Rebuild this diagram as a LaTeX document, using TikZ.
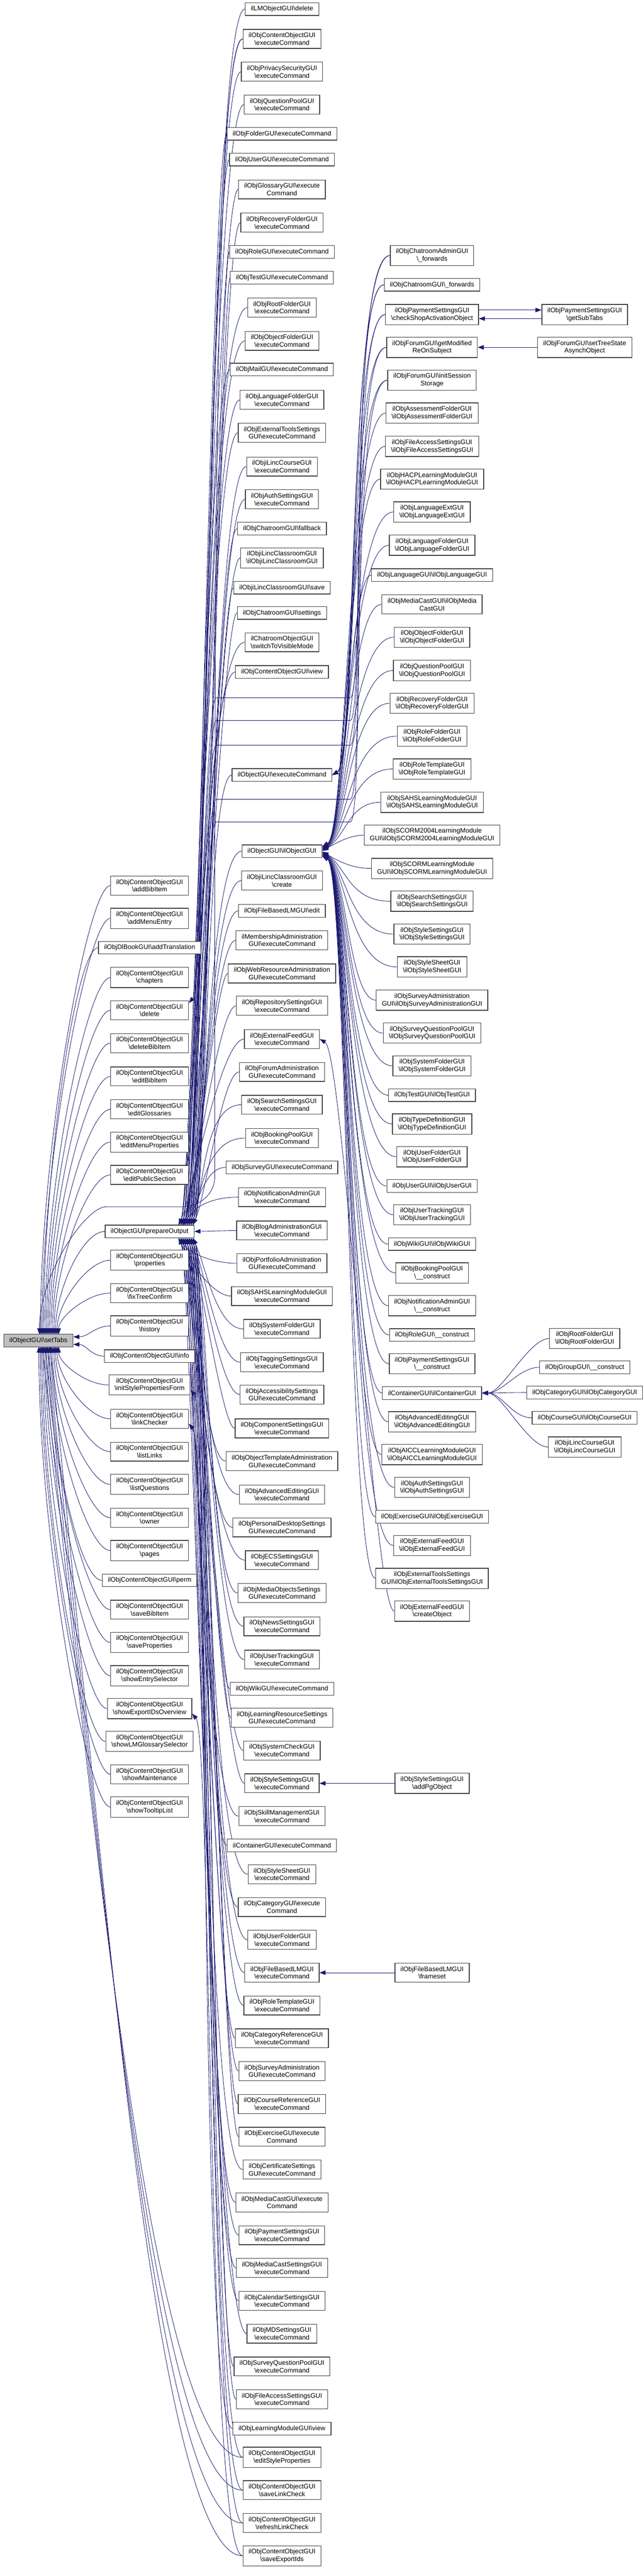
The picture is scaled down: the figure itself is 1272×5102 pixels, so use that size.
\documentclass[tikz,border=0pt]{standalone}
\usepackage{fontspec}
\setmainfont{Liberation Sans}
\usetikzlibrary{arrows.meta,calc}
\definecolor{edgeblue}{HTML}{191970}
\newcommand{\bs}{\textbackslash}
\newcommand{\fnt}{\fontsize{1.625}{1.875}\selectfont}
\pgfdeclarelayer{bg}
\pgfsetlayers{bg,main}
\tikzset{
  fn/.style={draw=black!75, line width=0.16pt, fill=white, align=center, font=\fnt,
    inner xsep=1.375pt, inner ysep=0.8125pt, minimum height=3.125pt},
  rootfn/.style={fn, fill=black!25},
  edge/.style={draw=edgeblue, line width=0.11pt, -{Triangle[length=1.5pt,width=1.1pt]}}
}
\begin{document}
\begin{tikzpicture}[x=0.125pt,y=0.125pt]
\useasboundingbox (0,0) rectangle (1272,-5102);

\node[rootfn] (T) at (76,-2655) {ilObjectGUI\bs setTabs};

% callers of setTabs
\foreach \y/\t [count=\n] in {1754/{ilObjContentObjectGUI\\\bs addBibItem},
  1819/{ilObjContentObjectGUI\\\bs addMenuEntry}, 1877/{ilObjDlBookGUI\bs addTranslation},
  1936/{ilObjContentObjectGUI\\\bs chapters}, 2001/{ilObjContentObjectGUI\\\bs delete},
  2066/{ilObjContentObjectGUI\\\bs deleteBibItem}, 2132/{ilObjContentObjectGUI\\\bs editBibItem},
  2197/{ilObjContentObjectGUI\\\bs editGlossaries}, 2262/{ilObjContentObjectGUI\\\bs editMenuProperties},
  2327/{ilObjContentObjectGUI\\\bs editPublicSection}, 2439/{ilObjectGUI\bs prepareOutput},
  2496/{ilObjContentObjectGUI\\\bs properties}, 2561/{ilObjContentObjectGUI\\\bs fixTreeConfirm},
  2626/{ilObjContentObjectGUI\\\bs history}, 2686/{ilObjContentObjectGUI\bs info},
  2743/{ilObjContentObjectGUI\\\bs initStylePropertiesForm}, 2810/{ilObjContentObjectGUI\\\bs linkChecker},
  2875/{ilObjContentObjectGUI\\\bs listLinks}, 2940/{ilObjContentObjectGUI\\\bs listQuestions},
  3006/{ilObjContentObjectGUI\\\bs owner}, 3071/{ilObjContentObjectGUI\\\bs pages},
  3130/{ilObjContentObjectGUI\bs perm}, 3188/{ilObjContentObjectGUI\\\bs saveBibItem},
  3253/{ilObjContentObjectGUI\\\bs saveProperties}, 3319/{ilObjContentObjectGUI\\\bs showEntrySelector},
  3384/{ilObjContentObjectGUI\\\bs showExportIDsOverview}, 3449/{ilObjContentObjectGUI\\\bs showLMGlossarySelector},
  3514/{ilObjContentObjectGUI\\\bs showMaintenance}, 3579/{ilObjContentObjectGUI\\\bs showTooltipList}}
  \node[fn] (P\n) at (296,-\y) {\t};

% third rank
\foreach \y/\t [count=\n] in {18/{ilLMObjectGUI\bs delete},
  77/{ilObjContentObjectGUI\\\bs executeCommand}, 142/{ilObjPrivacySecurityGUI\\\bs executeCommand},
  207/{ilObjQuestionPoolGUI\\\bs executeCommand}, 265/{ilObjFolderGUI\bs executeCommand},
  316/{ilObjUserGUI\bs executeCommand}, 375/{ilObjGlossaryGUI\bs execute\\Command},
  441/{ilObjRecoveryFolderGUI\\\bs executeCommand}, 499/{ilObjRoleGUI\bs executeCommand},
  550/{ilObjTestGUI\bs executeCommand}, 609/{ilObjRootFolderGUI\\\bs executeCommand},
  675/{ilObjObjectFolderGUI\\\bs executeCommand}, 732/{ilObjMailGUI\bs executeCommand},
  792/{ilObjLanguageFolderGUI\\\bs executeCommand}, 857/{ilObjExternalToolsSettings\\GUI\bs executeCommand},
  924/{ilObjiLincCourseGUI\\\bs executeCommand}, 989/{ilObjAuthSettingsGUI\\\bs executeCommand},
  1047/{ilObjChatroomGUI\bs fallback}, 1105/{ilObjiLincClassroomGUI\\\bs ilObjiLincClassroomGUI},
  1164/{ilObjiLincClassroomGUI\bs save}, 1214/{ilObjChatroomGUI\bs settings},
  1272/{ilChatroomObjectGUI\\\bs switchToVisibleMode}, 1331/{ilObjContentObjectGUI\bs view},
  1535/{ilObjectGUI\bs executeCommand}, 1686/{ilObjectGUI\bs ilObjectGUI},
  1744/{ilObjiLincClassroomGUI\\\bs create}, 1804/{ilObjFileBasedLMGUI\bs edit},
  1862/{ilMembershipAdministration\\GUI\bs executeCommand}, 1928/{ilObjWebResourceAdministration\\GUI\bs executeCommand},
  1992/{ilObjRepositorySettingsGUI\\\bs executeCommand}, 2058/{ilObjExternalFeedGUI\\\bs executeCommand},
  2123/{ilObjForumAdministration\\GUI\bs executeCommand}, 2188/{ilObjSearchSettingsGUI\\\bs executeCommand},
  2254/{ilObjBookingPoolGUI\\\bs executeCommand}, 2312/{ilObjSurveyGUI\bs executeCommand},
  2371/{ilObjNotificationAdminGUI\\\bs executeCommand}, 2437/{ilObjBlogAdministrationGUI\\\bs executeCommand},
  2502/{ilObjPortfolioAdministration\\GUI\bs executeCommand}, 2567/{ilObjSAHSLearningModuleGUI\\\bs executeCommand},
  2632/{ilObjSystemFolderGUI\\\bs executeCommand}, 2698/{ilObjTaggingSettingsGUI\\\bs executeCommand},
  2762/{ilObjAccessibilitySettings\\GUI\bs executeCommand}, 2829/{ilObjComponentSettingsGUI\\\bs executeCommand},
  2894/{ilObjObjectTemplateAdministration\\GUI\bs executeCommand}, 2960/{ilObjAdvancedEditingGUI\\\bs executeCommand},
  3025/{ilObjPersonalDesktopSettings\\GUI\bs executeCommand}, 3090/{ilObjECSSettingsGUI\\\bs executeCommand},
  3155/{ilObjMediaObjectsSettings\\GUI\bs executeCommand}, 3221/{ilObjNewsSettingsGUI\\\bs executeCommand},
  3287/{ilObjUserTrackingGUI\\\bs executeCommand}, 3345/{ilObjWikiGUI\bs executeCommand},
  3402/{ilObjLearningResourceSettings\\GUI\bs executeCommand}, 3467/{ilObjSystemCheckGUI\\\bs executeCommand},
  3532/{ilObjStyleSettingsGUI\\\bs executeCommand}, 3597/{ilObjSkillManagementGUI\\\bs executeCommand},
  3655/{ilContainerGUI\bs executeCommand}, 3712/{ilObjStyleSheetGUI\\\bs executeCommand},
  3777/{ilObjCategoryGUI\bs execute\\Command}, 3842/{ilObjUserFolderGUI\\\bs executeCommand},
  3907/{ilObjFileBasedLMGUI\\\bs executeCommand}, 3972/{ilObjRoleTemplateGUI\\\bs executeCommand},
  4037/{ilObjCategoryReferenceGUI\\\bs executeCommand}, 4102/{ilObjSurveyAdministration\\GUI\bs executeCommand},
  4167/{ilObjCourseReferenceGUI\\\bs executeCommand}, 4232/{ilObjExerciseGUI\bs execute\\Command},
  4297/{ilObjCertificateSettings\\GUI\bs executeCommand}, 4362/{ilObjMediaCastGUI\bs execute\\Command},
  4427/{ilObjPaymentSettingsGUI\\\bs executeCommand}, 4492/{ilObjMediaCastSettingsGUI\\\bs executeCommand},
  4557/{ilObjCalendarSettingsGUI\\\bs executeCommand}, 4622/{ilObjMDSettingsGUI\\\bs executeCommand},
  4687/{ilObjSurveyQuestionPoolGUI\\\bs executeCommand}, 4752/{ilObjFileAccessSettingsGUI\\\bs executeCommand},
  4810/{ilObjLearningModuleGUI\bs view}, 4867/{ilObjContentObjectGUI\\\bs editStyleProperties},
  4932/{ilObjContentObjectGUI\\\bs saveLinkCheck}, 4997/{ilObjContentObjectGUI\\\bs refreshLinkCheck},
  5062/{ilObjContentObjectGUI\\\bs saveExportIds}}
  \node[fn] (Q\n) at (558,-\y) {\t};

% fourth rank
\foreach \y/\t [count=\n] in {506/{ilObjChatroomAdminGUI\\\bs \_forwards},
  564/{ilObjChatroomGUI\bs \_forwards}, 623/{ilObjPaymentSettingsGUI\\\bs checkShopActivationObject},
  688/{ilObjForumGUI\bs getModified\\ReOnSubject}, 753/{ilObjForumGUI\bs initSession\\Storage},
  818/{ilObjAssessmentFolderGUI\\\bs ilObjAssessmentFolderGUI}, 884/{ilObjFileAccessSettingsGUI\\\bs ilObjFileAccessSettingsGUI},
  949/{ilObjHACPLearningModuleGUI\\\bs ilObjHACPLearningModuleGUI}, 1014/{ilObjLanguageExtGUI\\\bs ilObjLanguageExtGUI},
  1080/{ilObjLanguageFolderGUI\\\bs ilObjLanguageFolderGUI}, 1139/{ilObjLanguageGUI\bs ilObjLanguageGUI},
  1197/{ilObjMediaCastGUI\bs ilObjMedia\\CastGUI}, 1262/{ilObjObjectFolderGUI\\\bs ilObjObjectFolderGUI},
  1328/{ilObjQuestionPoolGUI\\\bs ilObjQuestionPoolGUI}, 1393/{ilObjRecoveryFolderGUI\\\bs ilObjRecoveryFolderGUI},
  1458/{ilObjRoleFolderGUI\\\bs ilObjRoleFolderGUI}, 1523/{ilObjRoleTemplateGUI\\\bs ilObjRoleTemplateGUI},
  1589/{ilObjSAHSLearningModuleGUI\\\bs ilObjSAHSLearningModuleGUI},
  1654/{ilObjSCORM2004LearningModule\\GUI\bs ilObjSCORM2004LearningModuleGUI},
  1720/{ilObjSCORMLearningModule\\GUI\bs ilObjSCORMLearningModuleGUI},
  1785/{ilObjSearchSettingsGUI\\\bs ilObjSearchSettingsGUI}, 1850/{ilObjStyleSettingsGUI\\\bs ilObjStyleSettingsGUI},
  1915/{ilObjStyleSheetGUI\\\bs ilObjStyleSheetGUI}, 1981/{ilObjSurveyAdministration\\GUI\bs ilObjSurveyAdministrationGUI},
  2046/{ilObjSurveyQuestionPoolGUI\\\bs ilObjSurveyQuestionPoolGUI}, 2111/{ilObjSystemFolderGUI\\\bs ilObjSystemFolderGUI},
  2169/{ilObjTestGUI\bs ilObjTestGUI}, 2226/{ilObjTypeDefinitionGUI\\\bs ilObjTypeDefinitionGUI},
  2291/{ilObjUserFolderGUI\\\bs ilObjUserFolderGUI}, 2349/{ilObjUserGUI\bs ilObjUserGUI},
  2406/{ilObjUserTrackingGUI\\\bs ilObjUserTrackingGUI}, 2464/{ilObjWikiGUI\bs ilObjWikiGUI},
  2521/{ilObjBookingPoolGUI\\\bs \_\_construct}, 2586/{ilObjNotificationAdminGUI\\\bs \_\_construct},
  2644/{ilObjRoleGUI\bs \_\_construct}, 2701/{ilObjPaymentSettingsGUI\\\bs \_\_construct},
  2759/{ilContainerGUI\bs ilContainerGUI}, 2816/{ilObjAdvancedEditingGUI\\\bs ilObjAdvancedEditingGUI},
  2881/{ilObjAICCLearningModuleGUI\\\bs ilObjAICCLearningModuleGUI}, 2946/{ilObjAuthSettingsGUI\\\bs ilObjAuthSettingsGUI},
  3004/{ilObjExerciseGUI\bs ilObjExerciseGUI}, 3061/{ilObjExternalFeedGUI\\\bs ilObjExternalFeedGUI},
  3126/{ilObjExternalToolsSettings\\GUI\bs ilObjExternalToolsSettingsGUI}, 3191/{ilObjExternalFeedGUI\\\bs createObject},
  3532/{ilObjStyleSettingsGUI\\\bs addPgObject}, 3907/{ilObjFileBasedLMGUI\\\bs frameset}}
  \node[fn] (R\n) at (855,-\y) {\t};

% fifth rank
\foreach \y/\t [count=\n] in {623/{ilObjPaymentSettingsGUI\\\bs getSubTabs},
  688/{ilObjForumGUI\bs setTreeState\\AsynchObject}, 2651/{ilObjRootFolderGUI\\\bs ilObjRootFolderGUI},
  2708/{ilObjGroupGUI\bs \_\_construct}, 2758/{ilObjCategoryGUI\bs ilObjCategoryGUI},
  2808/{ilObjCourseGUI\bs ilObjCourseGUI}, 2866/{ilObjiLincCourseGUI\\\bs ilObjiLincCourseGUI}}
  \node[fn] (S\n) at (1157,-\y) {\t};

\begin{pgfonlayer}{bg}
% into setTabs
\foreach \n in {1,...,29} {
  \path (P\n.west); \pgfgetlastxy{\ex}{\ey}
  \pgfmathsetmacro\dy{8*\ey+2655}
  \ifdim\dy pt>40pt
    \pgfmathsetmacro\tx{80+3*(\n-1)}
    \pgfmathsetmacro\dd{0.125*0.42*(\dy-12)}
    \draw[edge] (P\n.west) to[out=180,in=90,out distance=5.6pt,in distance=\dd pt] (\tx,-2643);
  \else\ifdim\dy pt<-40pt
    \pgfmathsetmacro\tx{116-3*(\n-16)}
    \pgfmathsetmacro\dd{-0.125*0.42*(\dy+12)}
    \draw[edge] (P\n.west) to[out=180,in=-90,out distance=5.6pt,in distance=\dd pt] (\tx,-2667);
  \else
    \draw[edge] (P\n.west) to[out=180,in=0] ($(T.east)+(0,{\dy/4})$);
  \fi\fi
}
\foreach \n/\k in {75/0,76/1,77/2,78/3}
  \draw[edge] (Q\n.west) to[out=180,in=-84,out distance=22.5pt,in distance=112.5pt] ({84+5*\k},-2667);
\coordinate (v0) at (300,-2390);
\draw[edge] (Q2.west) to[out=180,in=90,out distance=7.5pt,in distance=112.5pt] (425,-2330)
  to[out=-90,in=0,out distance=4.4pt,in distance=4.4pt] ($(v0)+(60,0)$) -- ($(v0)+(-90,0)$)
  to[out=180,in=90,out distance=5pt,in distance=15pt] (78,-2643);

% into prepareOutput
\foreach \n in {2,...,73} {
  \path (Q\n.west); \pgfgetlastxy{\ex}{\ey}
  \pgfmathsetmacro\dy{8*\ey+2439}
  \pgfmathsetmacro\tx{3+4*mod(\n,8)}
  \pgfmathsetmacro\od{0.125*(8*\ex-400-4*mod(\n,11))}
  \ifdim\dy pt>25pt
    \pgfmathsetmacro\dd{0.125*min(60,0.5*\dy)}
    \draw[edge] (Q\n.west) to[out=180,in=65,out distance=\od pt,in distance=\dd pt] ($(P11.north east)+(-\tx,0)$);
  \else\ifdim\dy pt<-25pt
    \pgfmathsetmacro\dd{-0.125*max(-60,0.5*\dy)}
    \draw[edge] (Q\n.west) to[out=180,in=-65,out distance=\od pt,in distance=\dd pt] ($(P11.south east)+(-\tx,0)$);
  \else
    \draw[edge] (Q\n.west) -- (P11.east);
  \fi\fi
}
\draw[edge] (Q1.west) to[out=180,in=50,out distance=8.75pt,in distance=7.5pt] ($(P5.north east)+(0,-5)$);
\draw[edge] (Q74.west) to[out=180,in=-50,out distance=8.75pt,in distance=7.5pt] ($(P12.east)+(0,-10)$);
\draw[edge] (Q75.west) to[out=180,in=-50,out distance=8.75pt,in distance=7.5pt] ($(P16.east)+(0,-10)$);
\draw[edge] (Q76.west) to[out=180,in=-50,out distance=8.75pt,in distance=7.5pt] ($(P17.east)+(0,-10)$);
\draw[edge] (Q77.west) to[out=180,in=-50,out distance=8.75pt,in distance=7.5pt] ($(P17.east)+(0,-10)$);
\draw[edge] (Q78.west) to[out=180,in=-50,out distance=8.75pt,in distance=7.5pt] ($(P26.east)+(0,-10)$);

% into ilObjectGUI constructor
\foreach \n in {6,...,43} {
  \path (R\n.west); \pgfgetlastxy{\ex}{\ey}
  \pgfmathsetmacro\dy{8*\ey+1686}
  \pgfmathsetmacro\sh{max(-9,min(9,\dy/50))}
  \pgfmathsetmacro\dd{0.125*min(55,0.6*abs(\dy)+5)}
  \pgfmathsetmacro\od{0.125*max(25,8*\ex-690)}
  \ifdim\dy pt>0pt \def\ang{30}\else\def\ang{-30}\fi
  \draw[edge] (R\n.west) to[out=180,in=\ang,out distance=\od pt,in distance=\dd pt] ($(Q25.east)+(0,\sh)$);
}
% into ilObjectGUI executeCommand, and through the gaps of the third rank
\foreach \n/\g in {1/1382,2/1427,3/1476,4/1583,5/1628} {
  \path (R\n.west); \pgfgetlastxy{\ex}{\ey}
  \pgfmathsetmacro\od{0.125*max(25,8*\ex-690)}
  \draw[edge] (R\n.west) to[out=180,in=30,out distance=\od pt,in distance=6.875pt] (Q24.east);
  \coordinate (g\n) at (558,-\g);
  \draw[edge] (R\n.west) to[out=180,in=0,out distance=\od pt,in distance=3.75pt] ($(g\n)+(135,0)$)
    -- ($(g\n)+(-130,0)$) to[out=180,in=65,out distance=3.125pt,in distance=7.5pt] ($(P11.north east)+(-22,0)$);
}
\draw[edge] (R44.west) to[out=180,in=-30,out distance=5pt,in distance=6.875pt] (Q31.east);
\draw[edge] (R45.west) -- (Q54.east);
\draw[edge] (R46.west) -- (Q60.east);

% fifth rank
\draw[edge] ($(R3.east)+(0,9)$) -- ($(S1.west)+(0,9)$);
\draw[edge] ($(S1.west)+(0,-8)$) -- ($(R3.east)+(0,-8)$);
\draw[edge] (S2.west) -- (R4.east);
\foreach \n in {3,...,7}
  \draw[edge] (S\n.west) to[out=180,in=0,out distance=5pt,in distance=5pt] (R37.east);
\end{pgfonlayer}
\end{tikzpicture}
\end{document}
